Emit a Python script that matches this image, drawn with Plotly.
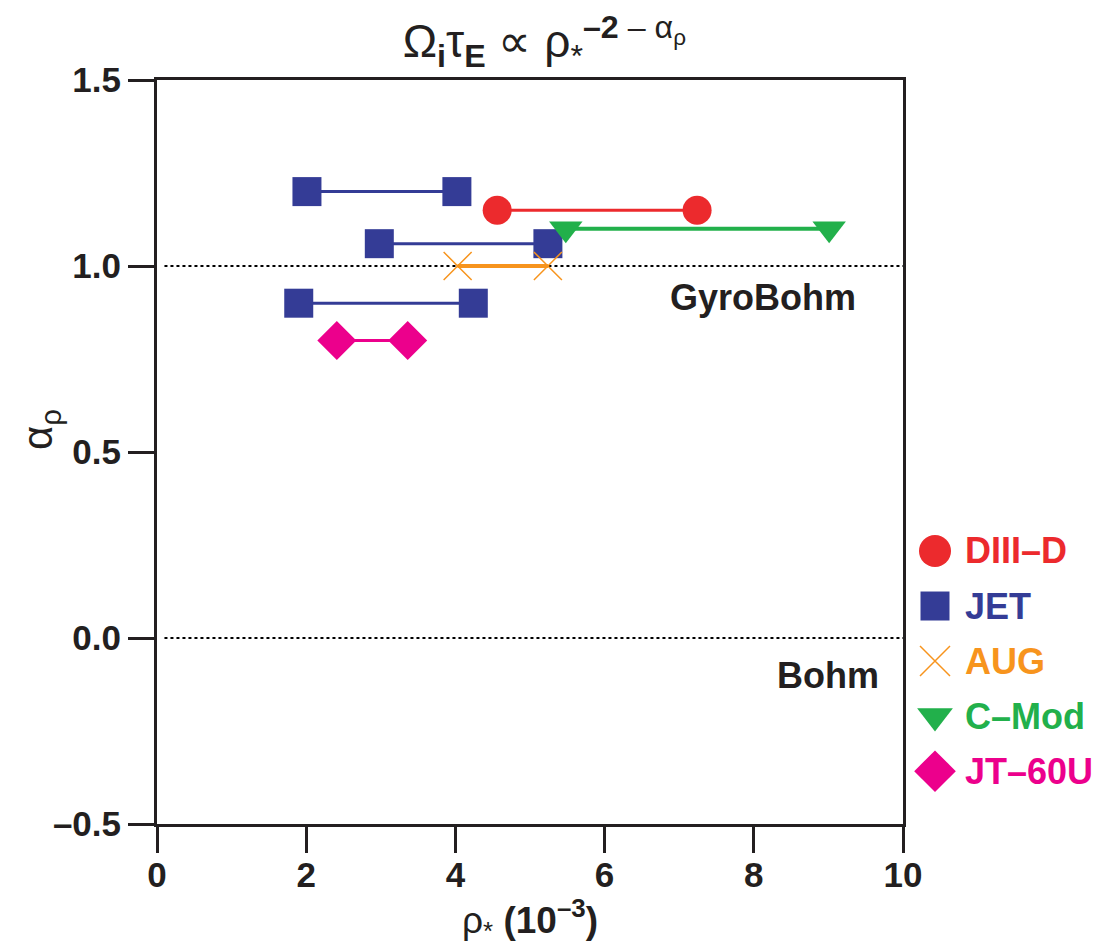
import plotly.graph_objects as go

# ---- data ----
series_names = ["DIII–D", "JET", "AUG", "C–Mod", "JT–60U"]
series_colors = ["#EC2A2D", "#343C96", "#F7941D", "#22B04B", "#EC008C"]
series_symbols = ["circle", "square", "x-thin", "triangle-down", "diamond"]

diiid_x = [4.56, 7.24]
diiid_y = [1.15, 1.15]
jet1_x = [2.01, 4.02]
jet1_y = [1.20, 1.20]
jet2_x = [2.98, 5.24]
jet2_y = [1.06, 1.06]
jet3_x = [1.90, 4.24]
jet3_y = [0.90, 0.90]
aug_x = [4.03, 5.24]
aug_y = [1.00, 1.00]
cmod_x = [5.48, 9.01]
cmod_y = [1.10, 1.10]
jt60_x = [2.41, 3.36]
jt60_y = [0.80, 0.80]

x_ticks = [0, 2, 4, 6, 8, 10]
y_ticks = [-0.5, 0.0, 0.5, 1.0, 1.5]
y_tick_text = ["–0.5", "0.0", "0.5", "1.0", "1.5"]
ref_levels = [1.0, 0.0]
ref_labels = ["GyroBohm", "Bohm"]

FONT = "Liberation Sans, Arial, sans-serif"
INK = "#231F20"

# page body has an 8px margin
W, H = 1099, 943
ML, MR, MT, MB = 149, 10, 72, 127
plot_w = W - ML - MR
x_dom_end = (895 - ML) / plot_w
leg_dom_start = (901 - ML) / plot_w

fig = go.Figure()

# reference dotted lines
for lv in ref_levels:
    fig.add_trace(go.Scatter(x=[0.1, 10], y=[lv, lv], mode="lines",
                             line=dict(color="black", width=2, dash="dot"),
                             showlegend=False, hoverinfo="skip"))

def seg(xs, ys, idx, msize, lw, mline=0):
    fig.add_trace(go.Scatter(
        x=xs, y=ys, mode="lines+markers", showlegend=False,
        line=dict(color=series_colors[idx], width=lw),
        marker=dict(symbol=series_symbols[idx], size=msize, color=series_colors[idx],
                    line=dict(width=mline, color=series_colors[idx]))))

seg(jet1_x, jet1_y, 1, 29, 3)
seg(diiid_x, diiid_y, 0, 29, 3)
seg(jet2_x, jet2_y, 1, 29, 3)
seg(aug_x, aug_y, 2, 28, 4, 1.5)
seg(jet3_x, jet3_y, 1, 29, 3)
seg(cmod_x, cmod_y, 3, 29, 4)
seg(jt60_x, jt60_y, 4, 30, 3)

# legend (markers on a side axis, labels as text)
leg_sizes = [32, 29, 30, 31, 32]
for i, nm in enumerate(series_names):
    ly = 0.234 - i * 0.148
    fig.add_trace(go.Scatter(
        x=[26], y=[ly], mode="markers", xaxis="x2", yaxis="y2", showlegend=False,
        marker=dict(symbol=series_symbols[i], size=leg_sizes[i], color=series_colors[i],
                    line=dict(width=1.5 if series_symbols[i] == "x-thin" else 0,
                              color=series_colors[i]))))
    fig.add_annotation(x=54, y=ly, xref="x2", yref="y2", text=f"<b>{nm}</b>",
                       showarrow=False, xanchor="left",
                       font=dict(size=36, color=series_colors[i], family=FONT))

fig.add_annotation(x=9.4, y=1.0, yshift=-31, text="<b>GyroBohm</b>", showarrow=False,
                   xanchor="right", xref="x", yref="y", font=dict(size=36, color=INK, family=FONT))
fig.add_annotation(x=9.7, y=0.0, yshift=-37, text="<b>Bohm</b>", showarrow=False,
                   xanchor="right", xref="x", yref="y", font=dict(size=36, color=INK, family=FONT))

# y-axis title
fig.add_annotation(x=-0.124, y=0.56, xref="paper", yref="y", text="α<sub>ρ</sub>", textangle=-90,
                   showarrow=False, xanchor="center", yanchor="middle",
                   font=dict(size=42, color=INK, family=FONT))

fig.update_layout(
    width=W, height=H,
    margin=dict(l=ML, r=MR, t=MT, b=MB),
    paper_bgcolor="white", plot_bgcolor="white",
    font=dict(family=FONT, color=INK),
    title=dict(text="Ω<b><sub>i</sub></b>τ<b><sub>E</sub></b> ∝ ρ<sub>*</sub><sup><b>–2</b> – α<sub>ρ</sub></sup>",
               x=0.488, xanchor="center", y=0.965, yanchor="middle",
               font=dict(size=46, family=FONT, color=INK)),
    showlegend=False,
    xaxis=dict(domain=[0, x_dom_end], range=[0, 10], tickvals=x_ticks,
               ticktext=[f"<b>{v}</b>" for v in x_ticks],
               showline=True, linecolor=INK, linewidth=3, mirror=True,
               ticks="outside", ticklen=26, tickwidth=2.5, tickcolor=INK,
               ticklabelstandoff=-8,
               showgrid=False, zeroline=False, automargin=False,
               tickfont=dict(size=35, family=FONT),
               title=dict(text="ρ<sub>*</sub> <b>(10<sup>–3</sup>)</b>",
                          font=dict(size=37, family=FONT), standoff=6)),
    yaxis=dict(range=[-0.5, 1.5], tickvals=y_ticks,
               ticktext=[f"<b>{t}</b>" for t in y_tick_text],
               showline=True, linecolor=INK, linewidth=3, mirror=True,
               ticks="outside", ticklen=26, tickwidth=2.5, tickcolor=INK,
               showgrid=False, zeroline=False, automargin=False,
               tickfont=dict(size=35, family=FONT)),
    xaxis2=dict(domain=[leg_dom_start, 1], range=[0, 188], anchor="y2", visible=False,
                showgrid=False, zeroline=False),
    yaxis2=dict(domain=[0, 1], range=[-0.5, 1.5], anchor="x2", visible=False,
                showgrid=False, zeroline=False),
)

fig.write_html("out.html")
